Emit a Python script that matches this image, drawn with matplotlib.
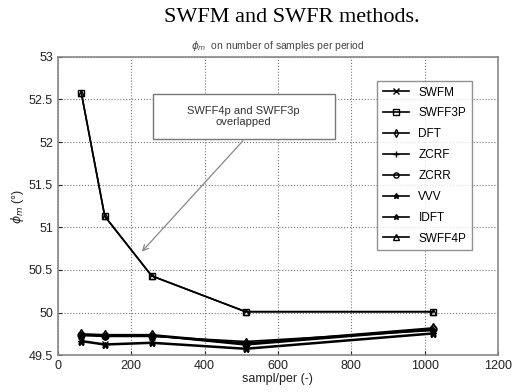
import matplotlib
matplotlib.use('Agg')
import matplotlib.pyplot as plt
from matplotlib.patches import Rectangle

# samples per period
x = [64, 128, 256, 512, 1024]

# phi_m values
swfm = [49.67, 49.63, 49.65, 49.58, 49.76]
swff3p = [52.58, 51.13, 50.43, 50.01, 50.01]
dft = [49.75, 49.74, 49.74, 49.64, 49.82]
zcrf = [49.73, 49.72, 49.72, 49.66, 49.79]
zcrr = [49.74, 49.73, 49.73, 49.63, 49.81]
vvv = [49.66, 49.62, 49.64, 49.57, 49.75]
idft = [49.74, 49.73, 49.73, 49.62, 49.80]
swff4p = [52.58, 51.13, 50.43, 50.01, 50.01]

names = ['SWFM', 'SWFF3P', 'DFT', 'ZCRF', 'ZCRR', 'VVV', 'IDFT', 'SWFF4P']
series = [swfm, swff3p, dft, zcrf, zcrr, vvv, idft, swff4p]
markers = ['x', 's', 'd', '+', 'o', '*', '*', '^']

plt.rcParams['font.family'] = ['Liberation Sans', 'DejaVu Sans']

fig = plt.figure(figsize=(5.16, 3.92), dpi=100)
ax = fig.add_axes([0.112, 0.094, 0.853, 0.761])

for y, name, m in zip(series, names, markers):
  mfc = 'none'
  if name == 'VVV':
    mfc = 'k'
  ax.plot(x, y, color='k', lw=1.2, marker=m, ms=5, mfc=mfc, mec='k', mew=1.0, label=name)

ax.set_xlim(0, 1200)
ax.set_ylim(49.5, 53)
ax.set_xticks([0, 200, 400, 600, 800, 1000, 1200])
ax.set_yticks([49.5, 50, 50.5, 51, 51.5, 52, 52.5, 53])
ax.set_yticklabels(['49.5', '50', '50.5', '51', '51.5', '52', '52.5', '53'])
ax.grid(True, ls=':', color='#777777', lw=0.8)
ax.tick_params(direction='in', labelsize=9, colors='#222222', length=3)
for s in ax.spines.values():
  s.set_color('#888888')
  s.set_linewidth(1.2)

ax.set_xlabel('sampl/per (-)', fontsize=9, color='#222222', labelpad=1)
ax.set_ylabel(r'$\phi_m$ (°)', fontsize=9, color='#222222', labelpad=2)
ax.set_title(r'$\phi_m$  on number of samples per period', fontsize=7.5, color='#444444', pad=6)

fig.text(0.565, 0.955, 'SWFM and SWFR methods.', ha='center', va='center',
         fontsize=16, family='Liberation Serif')

leg = ax.legend(loc='upper right', bbox_to_anchor=(0.955, 0.94), fontsize=8.5,
                frameon=True, fancybox=False, handlelength=2.2, labelspacing=0.75,
                borderpad=0.5, markerscale=0.75)
leg.get_frame().set_edgecolor('#777777')
leg.get_frame().set_linewidth(1.0)

# note box with arrow
ax.add_patch(Rectangle((259, 52.04), 496, 0.52, fill=True, fc='white', ec='#777777', lw=1.0, zorder=5))
ax.text(507, 52.3, 'SWFF4p and SWFF3p\noverlapped', ha='center', va='center',
        fontsize=8, color='#333333', zorder=6)
ax.annotate('', xy=(224, 50.69), xytext=(510, 52.04),
            arrowprops=dict(arrowstyle='->', color='#888888', lw=0.9), zorder=4)

fig.savefig('out.png', dpi=100)
